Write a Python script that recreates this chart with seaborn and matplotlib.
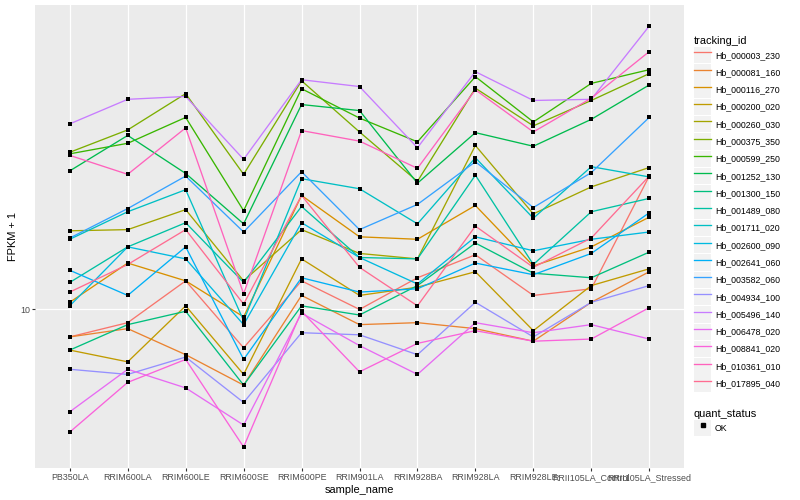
import numpy as np
import pandas as pd
import matplotlib
matplotlib.use("Agg")
import matplotlib.pyplot as plt
import seaborn as sns
from matplotlib.patches import Rectangle
from matplotlib.lines import Line2D
from matplotlib.legend_handler import HandlerTuple
from matplotlib.ticker import NullLocator

plt.rcParams["font.family"] = ["Liberation Sans", "DejaVu Sans"]

samples = ["PB350LA", "RRIM600LA", "RRIM600LE", "RRIM600SE", "RRIM600PE", "RRIM901LA",
           "RRIM928BA", "RRIM928LA", "RRIM928LE", "RRII105LA_Control", "RRII105LA_Stressed"]

tracking_ids = ["Hb_000003_230", "Hb_000081_160", "Hb_000116_270", "Hb_000200_020",
                "Hb_000260_030", "Hb_000375_350", "Hb_000599_250", "Hb_001252_130",
                "Hb_001300_150", "Hb_001489_080", "Hb_001711_020", "Hb_002600_090",
                "Hb_002641_060", "Hb_003582_060", "Hb_004934_100", "Hb_005496_140",
                "Hb_006478_020", "Hb_008841_020", "Hb_010361_010", "Hb_017895_040"]

hb_000003_230 = [8.6, 9.3, 11.7, 8.1, 11.7, 10.0, 11.9, 13.5, 10.8, 11.2, 20.8]
hb_000081_160 = [8.6, 9.0, 7.8, 6.6, 10.8, 9.2, 9.3, 9.0, 8.4, 10.4, 12.3]
hb_000116_270 = [10.4, 12.9, 11.7, 9.6, 18.7, 14.9, 14.7, 17.7, 12.7, 14.1, 16.6]
hb_000200_020 = [8.0, 7.5, 10.2, 7.0, 13.2, 10.8, 11.3, 12.3, 8.9, 11.4, 12.5]
hb_000260_030 = [15.4, 15.5, 17.3, 11.7, 15.5, 13.6, 13.2, 24.6, 16.9, 19.6, 21.8]
hb_000375_350 = [23.7, 26.8, 32.7, 21.0, 35.1, 26.5, 20.2, 33.7, 27.4, 31.5, 36.5]
hb_000599_250 = [23.5, 24.9, 28.7, 17.2, 33.6, 28.6, 25.1, 35.9, 28.0, 34.6, 37.3]
hb_001252_130 = [21.4, 26.0, 21.1, 16.0, 30.8, 29.8, 20.0, 26.4, 24.5, 28.4, 34.3]
hb_001300_150 = [8.0, 9.2, 9.9, 6.6, 10.2, 9.7, 11.4, 14.4, 12.2, 11.9, 13.7]
hb_001489_080 = [11.6, 14.1, 16.1, 11.6, 17.6, 13.3, 13.2, 20.9, 12.8, 17.1, 18.4]
hb_001711_020 = [14.7, 17.1, 19.3, 9.4, 20.5, 19.4, 16.0, 23.0, 16.5, 21.9, 20.7]
hb_002600_090 = [10.2, 14.1, 13.2, 9.2, 16.1, 13.3, 11.5, 14.9, 13.8, 14.7, 15.3]
hb_002641_060 = [12.4, 10.8, 14.1, 7.6, 11.9, 11.0, 11.2, 12.9, 12.1, 13.6, 17.0]
hb_003582_060 = [14.8, 17.4, 20.8, 15.3, 21.3, 15.5, 17.8, 22.5, 17.5, 21.2, 28.7]
hb_004934_100 = [7.2, 7.0, 7.7, 6.0, 8.8, 8.7, 7.8, 10.4, 8.6, 10.4, 11.4]
hb_005496_140 = [27.7, 31.7, 32.2, 22.8, 35.3, 34.0, 24.3, 36.9, 31.5, 31.7, 47.4]
hb_006478_020 = [5.7, 7.2, 6.5, 5.3, 9.8, 8.2, 7.0, 9.3, 8.8, 9.2, 8.5]
hb_008841_020 = [5.1, 6.7, 7.6, 4.7, 9.9, 7.1, 8.3, 8.9, 8.4, 8.5, 10.1]
hb_010361_010 = [23.3, 21.0, 27.1, 10.9, 26.7, 25.2, 21.7, 33.4, 26.5, 31.9, 41.2]
hb_017895_040 = [11.0, 12.8, 15.5, 10.3, 18.7, 12.6, 10.2, 15.8, 12.6, 14.8, 20.8]

series = [hb_000003_230, hb_000081_160, hb_000116_270, hb_000200_020, hb_000260_030,
          hb_000375_350, hb_000599_250, hb_001252_130, hb_001300_150, hb_001489_080,
          hb_001711_020, hb_002600_090, hb_002641_060, hb_003582_060, hb_004934_100,
          hb_005496_140, hb_006478_020, hb_008841_020, hb_010361_010, hb_017895_040]

colors = ["#F8766D", "#EA8331", "#D89000", "#C09B00", "#A3A500", "#7CAE00", "#39B600",
          "#00BB4E", "#00BF7D", "#00C1A3", "#00BFC4", "#00BAE0", "#00B0F6", "#35A2FF",
          "#9590FF", "#C77CFF", "#E76BF3", "#FA62DB", "#FF62BC", "#FF6C91"]

rows = []
for tid, vals in zip(tracking_ids, series):
    for s, v in zip(samples, vals):
        rows.append({"tracking_id": tid, "sample_name": s, "fpkm": v, "quant_status": "OK"})
df = pd.DataFrame(rows)

fig = plt.figure(figsize=(8, 5), dpi=100)
ax = fig.add_axes([35 / 800, 32 / 500, (684 - 35) / 800, (468 - 5) / 500])
ax.set_facecolor("#EBEBEB")

sns.lineplot(data=df, x="sample_name", y="fpkm", hue="tracking_id", hue_order=tracking_ids,
             palette=colors, estimator=None, sort=False, lw=0.95, legend=False, ax=ax, zorder=2)
sns.scatterplot(data=df, x="sample_name", y="fpkm", color="black", marker="s", s=9,
                linewidth=0, legend=False, ax=ax, zorder=3)

ax.set_yscale("log")
lo, hi = np.log10(df["fpkm"].min()), np.log10(df["fpkm"].max())
pad = 0.05 * (hi - lo)
ax.set_ylim(10 ** (lo - pad), 10 ** (hi + pad))
ax.set_xlim(-0.6, len(samples) - 0.4)
ax.set_yticks([10])
ax.set_yticklabels(["10"])
ax.yaxis.set_minor_locator(NullLocator())

ax.grid(True, which="major", color="white", lw=0.9)
ax.set_axisbelow(True)
for sp in ax.spines.values():
    sp.set_visible(False)
ax.tick_params(axis="both", which="major", length=2.0, width=0.8, color="#333333",
               labelcolor="#4D4D4D", labelsize=6.4, pad=1.6)
ax.set_xlabel("sample_name", fontsize=7.9, color="black", labelpad=2)
ax.set_ylabel("FPKM + 1", fontsize=7.9, color="black", labelpad=1.5)

common = dict(loc="upper left", frameon=False, fontsize=6.34, title_fontsize=7.9,
              handlelength=1.97, handleheight=2.49, labelspacing=0.1, handletextpad=0.4,
              borderpad=0, borderaxespad=0, alignment="left",
              handler_map={tuple: HandlerTuple(ndivide=1, pad=0)})

handles = [(Rectangle((0, 0), 1, 1, facecolor="#F2F2F2", edgecolor="none"),
            Line2D([], [], color=c, lw=0.95)) for c in colors]
leg1 = fig.legend(handles, tracking_ids, bbox_to_anchor=(694 / 800, 1 - 36 / 500),
                  title="tracking_id", **common)

handles2 = [(Rectangle((0, 0), 1, 1, facecolor="#F2F2F2", edgecolor="none"),
             Line2D([], [], color="black", marker="s", markersize=3, lw=0))]
leg2 = fig.legend(handles2, ["OK"], bbox_to_anchor=(694 / 800, 1 - 409 / 500),
                  title="quant_status", numpoints=1, **common)

fig.savefig("out.png", dpi=100, facecolor="white")
